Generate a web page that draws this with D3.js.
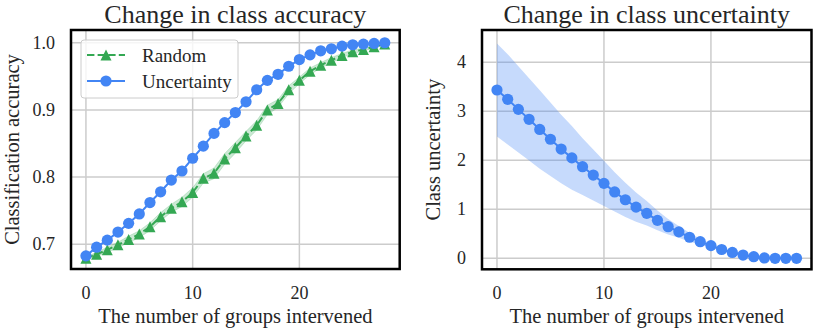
<!DOCTYPE html>
<html><head><meta charset="utf-8">
<script src="https://cdn.jsdelivr.net/npm/d3@7"></script>
<style>body{margin:0;background:#fff}svg{display:block}text{font-family:"Liberation Serif","Times New Roman",serif;fill:#262626}</style>
</head><body><svg id="c" width="814" height="329"></svg>
<script>
const groups = d3.range(0, 29);
const xTicks = [0, 10, 20];
const accTicks = [0.7, 0.8, 0.9, 1.0];
const uncTicks = [0, 1, 2, 3, 4];
const seriesNames = ["Random", "Uncertainty"];
const accRandom = [0.679,0.685,0.6915,0.699,0.707,0.715,0.726,0.741,0.7535,0.763,0.777,0.798,0.8055,0.827,0.8435,0.861,0.877,0.900,0.9095,0.930,0.944,0.9575,0.9665,0.974,0.981,0.9865,0.990,0.994,0.998];
const accRandomStd = [0.002,0.003,0.004,0.004,0.005,0.005,0.006,0.006,0.006,0.007,0.007,0.007,0.008,0.008,0.008,0.007,0.007,0.007,0.006,0.006,0.005,0.005,0.004,0.004,0.003,0.003,0.002,0.002,0.001];
const accUncert = [0.6826,0.6955,0.706,0.718,0.731,0.745,0.762,0.778,0.7955,0.809,0.828,0.846,0.865,0.881,0.896,0.912,0.930,0.944,0.953,0.965,0.975,0.982,0.988,0.991,0.995,0.997,0.998,0.999,1.0];
const classUnc = [3.435,3.245,3.04,2.837,2.63,2.43,2.23,2.05,1.87,1.70,1.53,1.355,1.195,1.045,0.918,0.775,0.645,0.54,0.43,0.34,0.26,0.18,0.12,0.067,0.033,0.008,0.0,0.0,0.0];
const classUncStd = [0.95,0.92,0.88,0.84,0.80,0.75,0.70,0.65,0.58,0.52,0.46,0.40,0.35,0.30,0.25,0.20,0.16,0.12,0.09,0.06,0.04,0.03,0.02,0.01,0.005,0.002,0,0,0];

const BLUE = "#4285F4", GREEN = "#34A853";
const svg = d3.select("#c");

function panel(o) {
  const g = svg.append("g");
  const x = d3.scaleLinear().domain([-1.4, 29.4]).range([o.x0, o.x1]);
  const y = d3.scaleLinear().domain(o.yDom).range([o.y1, o.y0]);
  g.selectAll(".gx").data(xTicks).enter().append("line")
    .attr("x1", d => x(d)).attr("x2", d => x(d)).attr("y1", o.y0).attr("y2", o.y1)
    .attr("stroke", "#cccccc").attr("stroke-width", 1.5);
  g.selectAll(".gy").data(o.yTicks).enter().append("line")
    .attr("y1", d => y(d)).attr("y2", d => y(d)).attr("x1", o.x0).attr("x2", o.x1)
    .attr("stroke", "#cccccc").attr("stroke-width", 1.5);
  g.selectAll(".tx").data(xTicks).enter().append("text")
    .attr("x", d => x(d)).attr("y", 299).attr("text-anchor", "middle")
    .attr("font-size", 18).text(d => d);
  g.selectAll(".ty").data(o.yTicks).enter().append("text")
    .attr("x", o.x0 - 16).attr("y", d => y(d) + 6).attr("text-anchor", "end")
    .attr("font-size", 18).text(o.fmt);
  g.append("text").attr("x", (o.x0 + o.x1) / 2).attr("y", 323).attr("text-anchor", "middle")
    .attr("font-size", 20.5).text("The number of groups intervened");
  g.append("text").attr("transform", `translate(${o.ylx},${(o.y0 + o.y1) / 2}) rotate(-90)`)
    .attr("text-anchor", "middle").attr("font-size", 20.5).text(o.ylabel);
  g.append("text").attr("x", (o.x0 + o.x1) / 2).attr("y", 23).attr("text-anchor", "middle")
    .attr("font-size", 26).text(o.title);
  const clip = "clip" + Math.round(o.x0);
  svg.append("clipPath").attr("id", clip).append("rect")
    .attr("x", o.x0).attr("y", o.y0).attr("width", o.x1 - o.x0).attr("height", o.y1 - o.y0);
  const pg = g.append("g").attr("clip-path", `url(#${clip})`);
  return {g, pg, x, y, o};
}

function frame(p) {
  const o = p.o;
  p.g.append("rect").attr("x", o.x0).attr("y", o.y0).attr("width", o.x1 - o.x0).attr("height", o.y1 - o.y0)
    .attr("fill", "none").attr("stroke", "#000").attr("stroke-width", 2.5);
}

function triPath(cx, cy, s) {
  const h = s / 2;
  return `M${cx},${cy - h}L${cx + h},${cy + h}L${cx - h},${cy + h}Z`;
}

// Left panel
const L = panel({x0: 71, x1: 399.7, y0: 30, y1: 269, yDom: [0.663, 1.019], yTicks: accTicks,
  fmt: d => d.toFixed(1), ylabel: "Classification accuracy", ylx: 19, title: "Change in class accuracy"});
const areaL = d3.area().x((d, i) => L.x(groups[i]))
  .y0((d, i) => L.y(accRandom[i] - accRandomStd[i])).y1((d, i) => L.y(accRandom[i] + accRandomStd[i]));
L.pg.append("path").datum(accRandom).attr("d", areaL).attr("fill", GREEN).attr("fill-opacity", 0.25)
  .attr("stroke", GREEN).attr("stroke-opacity", 0.2).attr("stroke-width", 1);
const lineL = d3.line().x((d, i) => L.x(groups[i])).y(d => L.y(d));
L.pg.append("path").datum(accRandom).attr("d", lineL).attr("fill", "none").attr("stroke", GREEN)
  .attr("stroke-width", 2).attr("stroke-dasharray", "7.4,3.2");
L.pg.selectAll(".tri").data(accRandom).enter().append("path")
  .attr("d", (d, i) => triPath(L.x(groups[i]), L.y(d), 11)).attr("fill", GREEN);
L.pg.append("path").datum(accUncert).attr("d", lineL).attr("fill", "none").attr("stroke", BLUE).attr("stroke-width", 2);
L.pg.selectAll(".dot").data(accUncert).enter().append("circle")
  .attr("cx", (d, i) => L.x(groups[i])).attr("cy", d => L.y(d)).attr("r", 5.6).attr("fill", BLUE);
frame(L);

// Legend
const lg = L.g.append("g");
lg.append("rect").attr("x", 81).attr("y", 40).attr("width", 157).attr("height", 58).attr("rx", 3)
  .attr("fill", "#fff").attr("fill-opacity", 0.8).attr("stroke", "#cccccc").attr("stroke-width", 1);
const legY = [55, 81];
const lgi = lg.selectAll(".li").data(seriesNames).enter().append("g");
lgi.append("line").attr("x1", 87).attr("x2", 125).attr("y1", (d, i) => legY[i]).attr("y2", (d, i) => legY[i])
  .attr("stroke", (d, i) => i === 0 ? GREEN : BLUE).attr("stroke-width", 2)
  .attr("stroke-dasharray", (d, i) => i === 0 ? "7.4,3.2" : null);
lgi.append("path").attr("d", (d, i) => i === 0 ? triPath(106, legY[i], 11) : d3.symbol(d3.symbolCircle, Math.PI * 5.6 * 5.6)())
  .attr("transform", (d, i) => i === 0 ? null : `translate(106,${legY[i]})`)
  .attr("fill", (d, i) => i === 0 ? GREEN : BLUE);
lgi.append("text").attr("x", 142).attr("y", (d, i) => legY[i] + 6.5).attr("font-size", 19).text(d => d);

// Right panel
const R = panel({x0: 482, x1: 811.5, y0: 30, y1: 269.3, yDom: [-0.224, 4.66], yTicks: uncTicks,
  fmt: d => d, ylabel: "Class uncertainty", ylx: 440, title: "Change in class uncertainty"});
const areaR = d3.area().x((d, i) => R.x(groups[i]))
  .y0((d, i) => R.y(classUnc[i] - classUncStd[i])).y1((d, i) => R.y(classUnc[i] + classUncStd[i]));
R.pg.append("path").datum(classUnc).attr("d", areaR).attr("fill", BLUE).attr("fill-opacity", 0.3);
const lineR = d3.line().x((d, i) => R.x(groups[i])).y(d => R.y(d));
R.pg.append("path").datum(classUnc).attr("d", lineR).attr("fill", "none").attr("stroke", BLUE).attr("stroke-width", 2);
R.pg.selectAll(".dot").data(classUnc).enter().append("circle")
  .attr("cx", (d, i) => R.x(groups[i])).attr("cy", d => R.y(d)).attr("r", 5.6).attr("fill", BLUE);
frame(R);
</script></body></html>
